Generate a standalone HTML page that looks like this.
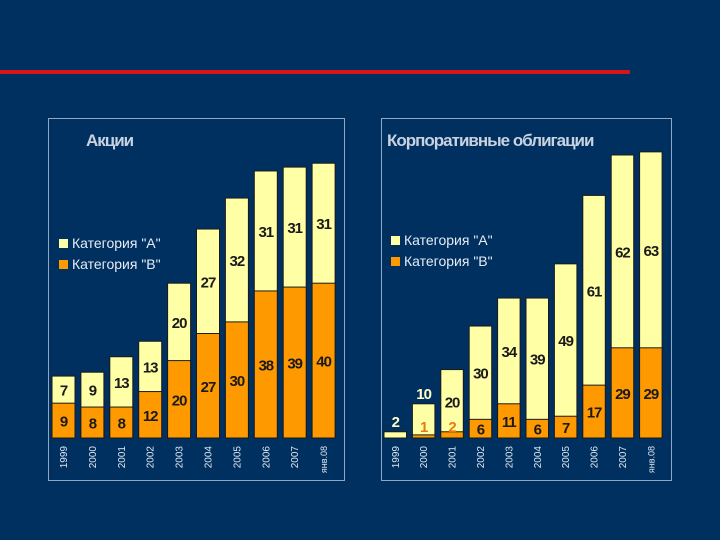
<!DOCTYPE html>
<html><head><meta charset="utf-8"><style>
html,body{margin:0;padding:0;background:#00305f;}
svg{display:block;font-family:"Liberation Sans",sans-serif;}
</style></head><body>
<svg id="s" width="720" height="540">
<rect x="0" y="0" width="720" height="540" fill="#00305f"/>
<rect x="0" y="70" width="630" height="4" fill="#d7141a"/>
<g id="left">
<rect x="48.5" y="118.5" width="296" height="362" fill="none" stroke="#8fa6c4" stroke-width="1"/>
<text x="86" y="146" fill="#c9d2e0" font-size="17" font-weight="bold" letter-spacing="-1">Акции</text>
</g>
<g id="right">
<rect x="381.5" y="118.5" width="290" height="362" fill="none" stroke="#8fa6c4" stroke-width="1"/>
<text x="387" y="146" fill="#c9d2e0" font-size="17" font-weight="bold" letter-spacing="-1">Корпоративные облигации</text>
</g>
</svg>
<script>
const categories=["1999","2000","2001","2002","2003","2004","2005","2006","2007","янв.08"];
const stocksA=[7,9,13,13,20,27,32,31,31,31];
const stocksB=[9,8,8,12,20,27,30,38,39,40];
const bondsA=[2,10,20,30,34,39,49,61,62,63];
const bondsB=[0,1,2,6,11,6,7,17,29,29];
const NS="http://www.w3.org/2000/svg";
function mk(t,a,p){const e=document.createElementNS(NS,t);for(const k in a)e.setAttribute(k,a[k]);p.appendChild(e);return e;}
function draw(gid,A,B,x0,step,bw,base,scale,lx,ly,name){
  const g=document.getElementById(gid);
  const y=v=>base-v*scale;
  categories.forEach((c,i)=>{
    const x=x0+i*step, cx=x+bw/2;
    const tb=y(B[i]), ta=y(A[i]+B[i]);
    let r=mk('rect',{x:x,y:ta,width:bw,height:base-ta,fill:'#ffffa6',stroke:'#1a1a1a','stroke-width':1},g);
    
    
    if(B[i]>0){
      r=mk('rect',{x:x,y:tb,width:bw,height:base-tb,fill:'#ff9900',stroke:'#1a1a1a','stroke-width':1},g);
      
      
    }
    const small=(base-tb)<14;
    const aSmall=(tb-ta)<18;
    let ay=aSmall?ta-5:(ta+tb)/2+6;
    let fill='#1a1a1a';
    if(aSmall) fill='#ffffc8';
    if(small&&B[i]>0){
      if(A[i]>=20){ay=ta+38;}else{ay=ta-5;fill='#ffffc8';}
    }
    let t=mk('text',{x:cx,y:ay,'text-anchor':'middle','font-size':15,'font-weight':'bold','letter-spacing':-1,fill:fill},g);
    t.textContent=A[i];
    
    
    if(B[i]>0){
      const by=small?base-6:(tb+base)/2+6;
      t=mk('text',{x:cx,y:by,'text-anchor':'middle','font-size':15,'font-weight':'bold','letter-spacing':-1,fill:small?'#e87a10':'#1a1a1a'},g);
      t.textContent=B[i];
      
      
    }
    t=mk('text',{x:0,y:0,'text-anchor':'end','font-size':c.length>4?9:10,fill:'#dfe6f0',transform:'translate('+(cx+3.5)+','+(base+8)+') rotate(-90)'},g);
    t.textContent=c;
    
    
  });
  const leg=[['Категория "А"','#ffffa6'],['Категория "В"','#ff9900']];
  leg.forEach((l,j)=>{
    let r=mk('rect',{x:lx,y:ly+j*21-9,width:9,height:9,fill:l[1]},g);
    
    
    let t=mk('text',{x:lx+13,y:ly+j*21,'font-size':14,fill:'#e6ecf4'},g);
    t.textContent=l[0];
    
    
  });
}
draw('left',stocksA,stocksB,52,28.9,23,438,3.87,59,248,'stocks');
draw('right',bondsA,bondsB,384,28.4,22.5,438,3.11,391,245,'bonds');
</script>
</body></html>
